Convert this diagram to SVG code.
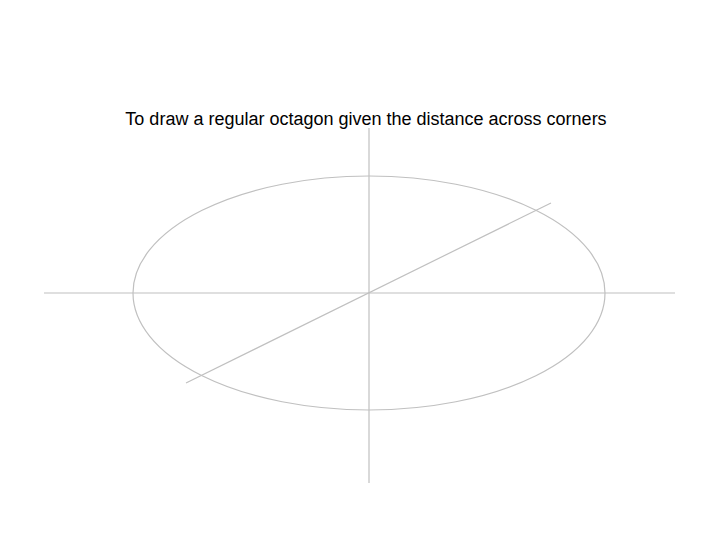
<svg xmlns="http://www.w3.org/2000/svg" width="720" height="540" viewBox="0 0 720 540">
<style>
.ln{stroke:#c0c0c0;stroke-width:1.2;fill:none}
.t{font-family:"Liberation Sans",Arial,sans-serif;font-size:18px;fill:#000}
</style>
<rect width="720" height="540" fill="#fff"/>
<text class="t" x="366" y="125" text-anchor="middle">To draw a regular octagon given the distance across corners</text>
<g id="connectors">
<ellipse class="ln" cx="369" cy="293" rx="236" ry="117"/>
<line class="ln" x1="44" y1="293" x2="675" y2="293"/>
<line class="ln" x1="369" y1="128" x2="369" y2="483"/>
<line class="ln" x1="186" y1="383" x2="551" y2="203"/>
</g>
</svg>
